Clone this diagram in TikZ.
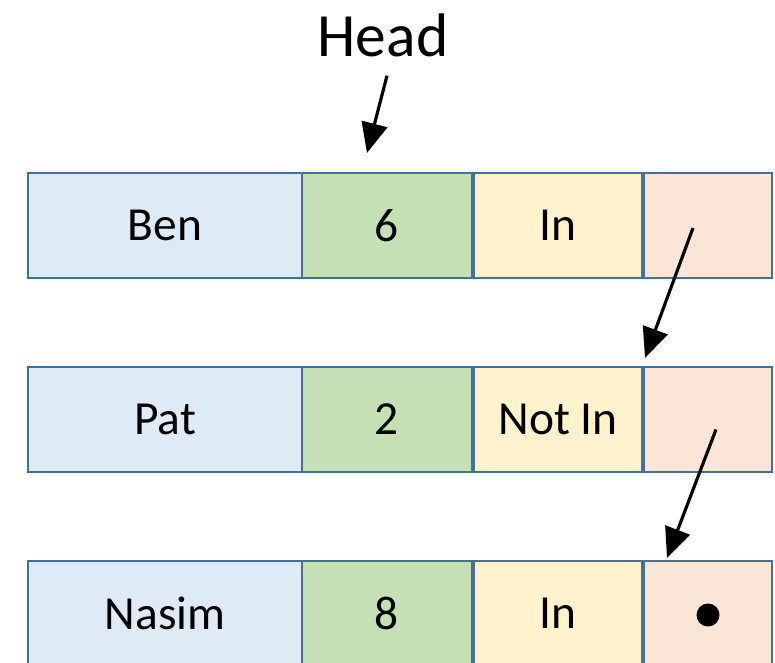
\documentclass[tikz,border=0pt]{standalone}
\usepackage{fontspec}
\setmainfont{Carlito}
\usetikzlibrary{positioning,arrows.meta}

\definecolor{cellline}{HTML}{41719C}
\definecolor{namefill}{HTML}{DEEBF7}
\definecolor{countfill}{HTML}{C5E0B4}
\definecolor{statefill}{HTML}{FFF2CC}
\definecolor{ptrfill}{HTML}{FBE5D6}

\begin{document}
\begin{tikzpicture}[->,>={Triangle[length=0.6cm,width=0.52cm]},line width=1.8pt,
                    node distance=0cm]
\tikzstyle{cell}=[draw=cellline,line width=1.1pt,outer sep=0pt,minimum height=2.1cm,
                  font=\fontsize{27pt}{31pt}\selectfont]
\tikzstyle{namecell}=[cell,fill=namefill,minimum width=5.48cm]
\tikzstyle{countcell}=[cell,fill=countfill,minimum width=3.4cm]
\tikzstyle{statecell}=[cell,fill=statefill,minimum width=3.36cm]
\tikzstyle{ptrcell}=[cell,fill=ptrfill,minimum width=2.56cm]

  \useasboundingbox (0,0) rectangle (15.5,-13.26);

        \node[inner sep=0pt,font=\fontsize{35pt}{40pt}\selectfont]   (head) at (7.66,-0.7) {Head};

        % first record
        \node[namecell]                          (n0) at (3.3,-4.51) {Ben};
        \node[countcell]  [right=0cm of n0]      (v0) {6};
        \node[statecell]  [right=0.04cm of v0]   (s0) {In};
        \node[ptrcell]    [right=0.04cm of s0]   (p0) {};

        % second record
        \node[namecell]   [below=1.78cm of n0]   (n1) {Pat};
        \node[countcell]  [right=0cm of n1]      (v1) {2};
        \node[statecell]  [right=0.04cm of v1]   (s1) {Not In};
        \node[ptrcell]    [right=0.04cm of s1]   (p1) {};

        % third record
        \node[namecell]   [below=1.78cm of n1]   (n2) {Nasim};
        \node[countcell]  [right=0cm of n2]      (v2) {8};
        \node[statecell]  [right=0.04cm of v2]   (s2) {In};
        \node[ptrcell]    [right=0.04cm of s2]   (p2) {};

        % null pointer
        \fill ([yshift=-0.03cm]p2.center) circle (0.23cm);

        \path[->]
        ([xshift=0.08cm,yshift=-0.35cm]head.south)  edge node {}  ([xshift=-0.4cm,yshift=0.4cm]v0.north)
        ([xshift=-0.3cm,yshift=-0.05cm]p0.center)  edge node {}  ([xshift=0.02cm,yshift=0.18cm]p1.north west)
        ([xshift=0.16cm,yshift=-0.2cm]p1.center)   edge node {}  ([xshift=0.46cm,yshift=0.06cm]p2.north west)
        ; %end path

\end{tikzpicture}
\end{document}
